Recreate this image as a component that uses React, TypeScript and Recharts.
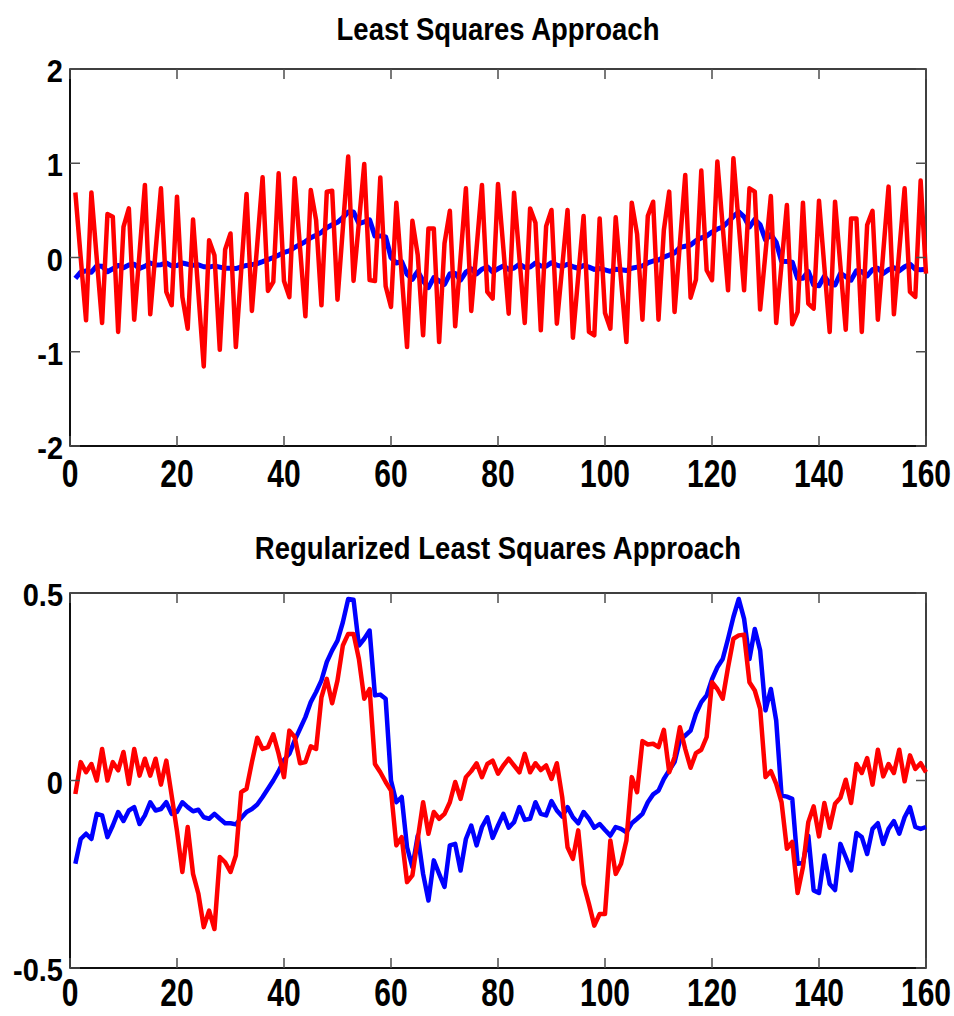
import { LineChart, Line, XAxis, YAxis, ReferenceArea } from "recharts";

// true signal (blue) shared by both panels
const signal = [
  -0.222, -0.156, -0.142, -0.156, -0.089, -0.093, -0.151, -0.12, -0.084, -0.108,
  -0.08, -0.071, -0.116, -0.093, -0.058, -0.08, -0.076, -0.058, -0.089, -0.084,
  -0.058, -0.071, -0.082, -0.078, -0.098, -0.102, -0.089, -0.102, -0.114, -0.114,
  -0.117, -0.1, -0.084, -0.076, -0.064, -0.044, -0.022, 0.0, 0.025, 0.055,
  0.071, 0.107, 0.138, 0.169, 0.209, 0.236, 0.267, 0.316, 0.347, 0.373,
  0.422, 0.484, 0.482, 0.36, 0.378, 0.4, 0.227, 0.229, 0.218, 0.0,
  -0.058, -0.044, -0.178, -0.231, -0.147, -0.249, -0.32, -0.213, -0.249, -0.284,
  -0.173, -0.169, -0.24, -0.156, -0.12, -0.173, -0.124, -0.098, -0.153, -0.12,
  -0.089, -0.126, -0.111, -0.071, -0.105, -0.102, -0.058, -0.089, -0.093, -0.055,
  -0.08, -0.096, -0.071, -0.098, -0.114, -0.084, -0.102, -0.126, -0.116, -0.132,
  -0.147, -0.124, -0.129, -0.138, -0.114, -0.102, -0.089, -0.058, -0.037, -0.027,
  0.004, 0.027, 0.049, 0.107, 0.12, 0.133, 0.178, 0.209, 0.227, 0.27,
  0.302, 0.324, 0.378, 0.436, 0.484, 0.431, 0.324, 0.404, 0.347, 0.187,
  0.244, 0.16, -0.04, -0.043, -0.049, -0.222, -0.22, -0.147, -0.293, -0.3,
  -0.2, -0.276, -0.292, -0.169, -0.204, -0.24, -0.14, -0.151, -0.196, -0.129,
  -0.114, -0.169, -0.129, -0.108, -0.142, -0.098, -0.071, -0.124, -0.129, -0.124,
];

// plain least squares reconstruction (red, top panel)
const lsEstimate = [
  0.69, 0.0, -0.667, 0.69, -0.01, -0.695, 0.461, 0.433, -0.79, 0.326,
  0.521, -0.66, 0.05, 0.77, -0.603, 0.07, 0.734, -0.365, -0.507, 0.645,
  -0.418, -0.755, 0.404, -0.38, -1.156, 0.184, 0.025, -0.979, 0.085, 0.255,
  -0.95, -0.14, 0.674, -0.567, 0.14, 0.851, -0.355, -0.259, 0.894, -0.25,
  -0.42, 0.84, 0.1, -0.624, 0.716, 0.397, -0.507, 0.699, 0.709, -0.447,
  0.31, 1.071, -0.248, 0.37, 0.993, -0.24, -0.25, 0.85, -0.305, -0.525,
  0.582, -0.18, -0.95, 0.39, 0.025, -0.826, 0.309, 0.309, -0.897, 0.149,
  0.496, -0.73, 0.0, 0.734, -0.567, 0.1, 0.77, -0.365, -0.436, 0.78,
  0.1, -0.596, 0.688, 0.0, -0.695, 0.521, 0.369, -0.773, 0.333, 0.504,
  -0.702, -0.1, 0.504, -0.851, -0.2, 0.44, -0.79, -0.826, 0.415, -0.589,
  -0.755, 0.426, -0.24, -0.897, 0.582, 0.248, -0.66, 0.44, 0.592, -0.66,
  0.291, 0.699, -0.578, 0.15, 0.876, -0.426, -0.234, 0.922, -0.135, -0.241,
  1.018, 0.33, -0.348, 1.053, 0.35, -0.348, 0.734, 0.699, -0.553, 0.05,
  0.652, -0.695, -0.07, 0.557, -0.709, -0.578, 0.582, -0.489, -0.543, 0.603,
  -0.1, -0.79, 0.592, -0.09, -0.766, 0.415, 0.415, -0.79, 0.344, 0.496,
  -0.66, 0.05, 0.752, -0.603, 0.07, 0.734, -0.365, -0.418, 0.816, -0.17,
];

// regularized reconstruction (red, bottom panel)
const rlsEstimate = [
  -0.036, 0.049, 0.022, 0.044, 0.0, 0.084, 0.0, 0.049, 0.027, 0.076,
  -0.009, 0.084, 0.013, 0.058, 0.013, 0.058, -0.011, 0.053, -0.04, -0.135,
  -0.244, -0.124, -0.249, -0.302, -0.391, -0.347, -0.396, -0.204, -0.218, -0.244,
  -0.2, -0.031, -0.022, 0.049, 0.114, 0.084, 0.089, 0.123, 0.071, 0.009,
  0.133, 0.116, 0.046, 0.049, 0.091, 0.084, 0.222, 0.271, 0.206, 0.267,
  0.36, 0.391, 0.391, 0.324, 0.218, 0.244, 0.044, 0.022, -0.004, -0.027,
  -0.173, -0.151, -0.271, -0.253, -0.156, -0.058, -0.142, -0.084, -0.102, -0.089,
  -0.058, -0.004, -0.049, 0.009, 0.025, 0.046, 0.009, 0.044, 0.053, 0.018,
  0.04, 0.058, 0.04, 0.022, 0.071, 0.022, 0.046, 0.028, 0.04, 0.004,
  0.046, -0.044, -0.178, -0.209, -0.133, -0.276, -0.329, -0.387, -0.356, -0.356,
  -0.16, -0.249, -0.222, -0.16, 0.009, -0.031, 0.105, 0.096, 0.098, 0.089,
  0.135, 0.022, 0.062, 0.142, 0.084, 0.034, 0.073, 0.082, 0.116, 0.262,
  0.244, 0.218, 0.302, 0.378, 0.387, 0.389, 0.262, 0.24, 0.191, 0.009,
  0.025, -0.009, -0.058, -0.182, -0.164, -0.3, -0.231, -0.111, -0.069, -0.149,
  -0.06, -0.126, -0.062, -0.046, 0.002, -0.06, 0.044, 0.02, 0.06, -0.011,
  0.082, 0.011, 0.044, 0.02, 0.082, -0.002, 0.067, 0.031, 0.046, 0.022,
];

const sampleTicks = [0, 20, 40, 60, 80, 100, 120, 140, 160];
const lsTicks = [-2, -1, 0, 1, 2];
const rlsTicks = [-0.5, 0, 0.5];

const FONT = "'Liberation Sans', Arial, Helvetica, sans-serif";
const TICK_COLOR = "#4d4d4d";
const WIDTH = 954;
const PLOT_LEFT = 70;
const PLOT_RIGHT = 926;
const PLOT_W = PLOT_RIGHT - PLOT_LEFT;

const lsData = signal.map((v, i) => ({ n: i + 1, signal: v, estimate: lsEstimate[i] }));
const rlsData = signal.map((v, i) => ({ n: i + 1, signal: v, estimate: rlsEstimate[i] }));

// bottom axis tick: inward tick on the bottom and top frame, tall label below
const makeXTick = (plotH: number, labelOffset: number) => (props: any) => {
  const { x, y, payload } = props;
  return (
    <g>
      <line x1={x} x2={x} y1={y} y2={y - 10} stroke={TICK_COLOR} strokeWidth={1.5} />
      <line x1={x} x2={x} y1={y - plotH} y2={y - plotH + 10} stroke={TICK_COLOR} strokeWidth={1.5} />
      <text
        transform={`translate(${x},${y + labelOffset}) scale(1,1.3)`}
        textAnchor="middle"
        fontFamily={FONT}
        fontWeight="bold"
        fontSize={30}
        fill="#000"
      >
        {payload.value}
      </text>
    </g>
  );
};

// left axis tick: inward tick on the left and right frame, label to the left
const YTick = (props: any) => {
  const { x, y, payload } = props;
  return (
    <g>
      <line x1={x} x2={x + 10} y1={y} y2={y} stroke={TICK_COLOR} strokeWidth={1.5} />
      <line x1={x + PLOT_W} x2={x + PLOT_W - 10} y1={y} y2={y} stroke={TICK_COLOR} strokeWidth={1.5} />
      <text
        transform={`translate(${x - 7},${y + 13}) scale(1,1.1)`}
        textAnchor="end"
        fontFamily={FONT}
        fontWeight="bold"
        fontSize={29}
        fill="#000"
      >
        {payload.value}
      </text>
    </g>
  );
};

type PanelProps = {
  title: string;
  data: { n: number; signal: number; estimate: number }[];
  yTicks: number[];
  top: number;
  height: number;
  marginTop: number;
  axisHeight: number;
  titleBaseline: number;
  labelOffset: number;
  signalWidth: number;
  estimateWidth: number;
};

const Panel = ({ title, data, yTicks, top, height, marginTop, axisHeight, titleBaseline, labelOffset, signalWidth, estimateWidth }: PanelProps) => {
  const plotH = height - marginTop - axisHeight;
  const lo = yTicks[0];
  const hi = yTicks[yTicks.length - 1];
  return (
    <div style={{ position: "absolute", left: 0, top, width: WIDTH, height }}>
      <svg width={WIDTH} height={marginTop} style={{ position: "absolute", left: 0, top: 0 }}>
        <text
          transform={`translate(${(PLOT_LEFT + PLOT_RIGHT) / 2},${titleBaseline}) scale(1,1.12)`}
          textAnchor="middle"
          fontFamily={FONT}
          fontWeight="bold"
          fontSize={27.5}
          fill="#000"
        >
          {title}
        </text>
      </svg>
      <LineChart width={WIDTH} height={height} data={data} margin={{ top: marginTop, right: WIDTH - PLOT_RIGHT, bottom: 0, left: 0 }}>
        <XAxis
          dataKey="n"
          type="number"
          domain={[0, 160]}
          ticks={sampleTicks}
          interval={0}
          height={axisHeight}
          tickSize={0}
          tickMargin={0}
          tickLine={false}
          axisLine={{ stroke: "#000", strokeWidth: 1.5 }}
          tick={makeXTick(plotH, labelOffset)}
        />
        <YAxis
          type="number"
          domain={[lo, hi]}
          ticks={yTicks}
          interval={0}
          width={PLOT_LEFT}
          tickSize={0}
          tickMargin={0}
          tickLine={false}
          allowDataOverflow
          axisLine={{ stroke: "#000", strokeWidth: 1.5 }}
          tick={YTick}
        />
        <ReferenceArea x1={0} x2={160} y1={lo} y2={hi} fill="none" stroke="#000" strokeWidth={1.5} />
        <Line type="linear" dataKey="signal" stroke="#0000ff" strokeWidth={signalWidth} strokeLinejoin="round" dot={false} activeDot={false} isAnimationActive={false} />
        <Line type="linear" dataKey="estimate" stroke="#ff0000" strokeWidth={estimateWidth} strokeLinejoin="round" dot={false} activeDot={false} isAnimationActive={false} />
      </LineChart>
    </div>
  );
};

const App = () => {
  return (
    <div style={{ position: "absolute", left: 0, top: 0, width: WIDTH, height: 1016, background: "#fff" }}>
      <Panel
        title="Least Squares Approach"
        data={lsData}
        yTicks={lsTicks}
        top={0}
        height={500}
        marginTop={69}
        axisHeight={54}
        titleBaseline={40}
        labelOffset={41}
        signalWidth={5}
        estimateWidth={4.5}
      />
      <Panel
        title="Regularized Least Squares Approach"
        data={rlsData}
        yTicks={rlsTicks}
        top={510}
        height={506}
        marginTop={83}
        axisHeight={48}
        titleBaseline={49}
        labelOffset={38}
        signalWidth={4.5}
        estimateWidth={4.5}
      />
    </div>
  );
};

export default App;
